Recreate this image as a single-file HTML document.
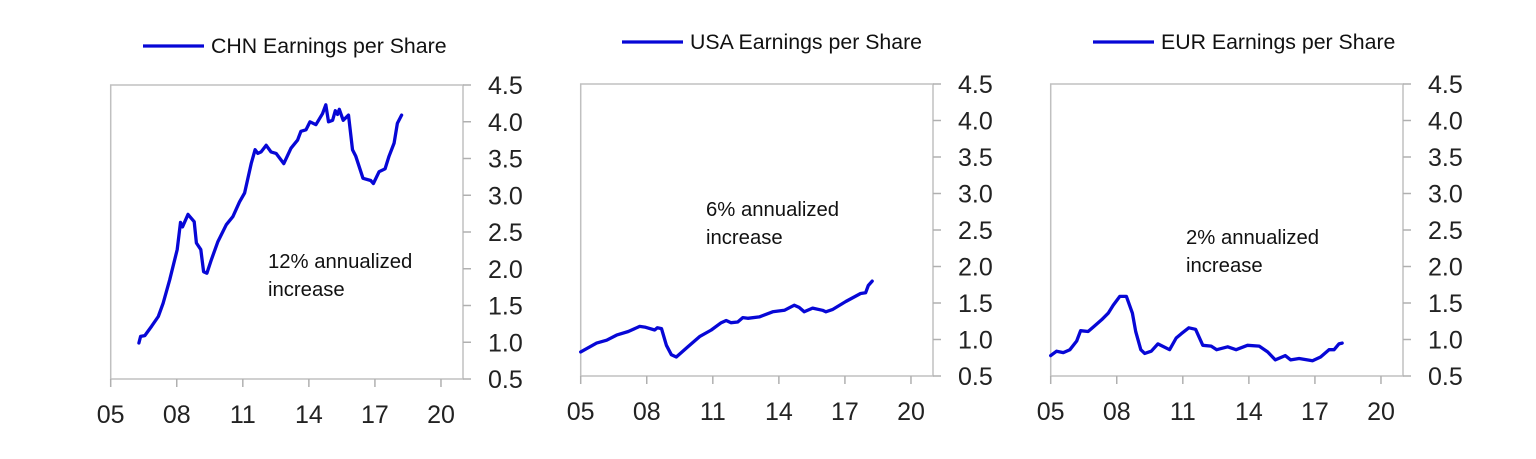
<!DOCTYPE html>
<html><head><meta charset="utf-8"><style>
html,body{margin:0;padding:0;background:#fff;}
svg{display:block;font-family:"Liberation Sans",sans-serif;}
</style></head><body>
<svg id="c" width="1536" height="459" viewBox="0 0 1536 459"></svg>
<script>
const chnYears=[2006.28,2006.36,2006.55,2006.86,2007.16,2007.38,2007.68,2008.02,2008.17,2008.26,2008.51,2008.79,2008.89,2009.09,2009.22,2009.37,2009.57,2009.87,2010.25,2010.55,2010.85,2011.08,2011.38,2011.56,2011.68,2011.83,2012.06,2012.28,2012.51,2012.86,2013.19,2013.49,2013.64,2013.87,2014.05,2014.32,2014.62,2014.77,2014.89,2015.08,2015.2,2015.3,2015.38,2015.56,2015.8,2015.98,2016.13,2016.46,2016.81,2016.93,2017.19,2017.46,2017.64,2017.87,2018.02,2018.21];
const chnValues=[0.99,1.08,1.09,1.22,1.35,1.53,1.85,2.26,2.63,2.57,2.74,2.64,2.35,2.26,1.96,1.94,2.12,2.37,2.6,2.71,2.91,3.03,3.43,3.62,3.57,3.59,3.68,3.59,3.57,3.43,3.64,3.75,3.87,3.89,4.0,3.96,4.11,4.23,4.0,4.02,4.15,4.1,4.17,4.02,4.09,3.62,3.53,3.23,3.2,3.16,3.32,3.36,3.53,3.71,3.98,4.09];
const usaYears=[2005.0,2005.42,2005.72,2006.18,2006.63,2007.16,2007.68,2007.91,2008.36,2008.48,2008.67,2008.89,2009.12,2009.34,2009.87,2010.4,2010.93,2011.38,2011.61,2011.83,2012.13,2012.36,2012.59,2013.11,2013.72,2014.25,2014.7,2014.92,2015.15,2015.53,2015.98,2016.13,2016.43,2017.04,2017.71,2017.94,2018.06,2018.24];
const usaValues=[0.83,0.9,0.95,0.99,1.06,1.11,1.18,1.17,1.13,1.16,1.15,0.92,0.79,0.76,0.9,1.04,1.13,1.23,1.26,1.23,1.24,1.3,1.29,1.31,1.38,1.4,1.47,1.44,1.38,1.43,1.4,1.38,1.41,1.52,1.63,1.64,1.74,1.8];
const eurYears=[2005.0,2005.27,2005.57,2005.87,2006.18,2006.36,2006.7,2006.93,2007.31,2007.61,2007.84,2008.14,2008.44,2008.71,2008.86,2009.09,2009.27,2009.57,2009.87,2010.4,2010.7,2010.93,2011.27,2011.58,2011.91,2012.29,2012.54,2013.04,2013.42,2013.94,2014.47,2014.85,2015.2,2015.65,2015.9,2016.28,2016.89,2017.26,2017.64,2017.87,2018.09,2018.24];
const eurValues=[0.78,0.84,0.82,0.86,0.98,1.12,1.11,1.17,1.27,1.36,1.47,1.59,1.59,1.36,1.11,0.86,0.81,0.84,0.94,0.86,1.02,1.08,1.16,1.14,0.92,0.91,0.86,0.9,0.86,0.92,0.91,0.83,0.72,0.78,0.72,0.74,0.71,0.76,0.86,0.86,0.94,0.95];
const xTickYears=[2005,2008,2011,2014,2017,2020];
const xTickLabels=["05","08","11","14","17","20"];
const yTickValues=[0.5,1.0,1.5,2.0,2.5,3.0,3.5,4.0,4.5];
const yTickLabels=["0.5","1.0","1.5","2.0","2.5","3.0","3.5","4.0","4.5"];

const NS="http://www.w3.org/2000/svg";
const svg=document.getElementById('c');
function mk(tag,attrs,parent){const e=document.createElementNS(NS,tag);for(const k in attrs)e.setAttribute(k,attrs[k]);(parent||svg).appendChild(e);return e;}

const panels=[
 {key:'chn',left:110.7,right:463,top:85,bottom:379,years:chnYears,values:chnValues,legend:'CHN Earnings per Share',lx:143,ly:46,note:['12% annualized','increase'],nx:268,ny:268},
 {key:'usa',left:580.7,right:933,top:84,bottom:376,years:usaYears,values:usaValues,legend:'USA Earnings per Share',lx:622,ly:42,note:['6% annualized','increase'],nx:706,ny:216},
 {key:'eur',left:1050.7,right:1403,top:84,bottom:376,years:eurYears,values:eurValues,legend:'EUR Earnings per Share',lx:1093,ly:42,note:['2% annualized','increase'],nx:1186,ny:244}
];

panels.forEach(p=>{
 const g=mk('g',{});
 
 
 const xs=y=>p.left+(y-2005)*(p.right-p.left)/16;
 const ys=v=>p.bottom-(v-0.5)*(p.bottom-p.top)/4;
 const box=mk('rect',{x:p.left,y:p.top,width:p.right-p.left,height:p.bottom-p.top,fill:'none',stroke:'#c0c0c0','stroke-width':1.5},g);
 
 
 xTickYears.forEach((yr,i)=>{
  const x=xs(yr);
  mk('line',{x1:x,x2:x,y1:p.bottom,y2:p.bottom+8,stroke:'#b0b0b0','stroke-width':1.5},g);
  const t=mk('text',{x:x,y:p.bottom+44,'text-anchor':'middle','font-size':25,fill:'#222'},g);
  t.textContent=xTickLabels[i];
  
  
 });
 yTickValues.forEach((v,i)=>{
  const y=ys(v);
  mk('line',{x1:p.right,x2:p.right+8,y1:y,y2:y,stroke:'#b0b0b0','stroke-width':1.5},g);
  const t=mk('text',{x:p.right+25,y:y+9,'font-size':25,fill:'#222'},g);
  t.textContent=yTickLabels[i];
  
  
 });
 const d=p.years.map((yr,i)=>(i?'L':'M')+xs(yr).toFixed(1)+','+ys(p.values[i]).toFixed(1)).join(' ');
 const path=mk('path',{d:d,fill:'none',stroke:'#0707d6','stroke-width':3.3,'stroke-linejoin':'round','stroke-linecap':'round'},g);
 
 
 const lg=mk('g',{},g);
 
 
 mk('line',{x1:p.lx,x2:p.lx+61,y1:p.ly,y2:p.ly,stroke:'#0707d6','stroke-width':3.3},lg);
 const lt=mk('text',{x:p.lx+68,y:p.ly+7,'font-size':21.3,fill:'#111'},lg);
 lt.textContent=p.legend;
 const nt=mk('text',{x:p.nx,y:p.ny,'font-size':20.3,fill:'#111'},g);
 
 
 p.note.forEach((s,i)=>{const ts=mk('tspan',{x:p.nx,dy:i?28:0},nt);ts.textContent=s;});
});
</script>
</body></html>
